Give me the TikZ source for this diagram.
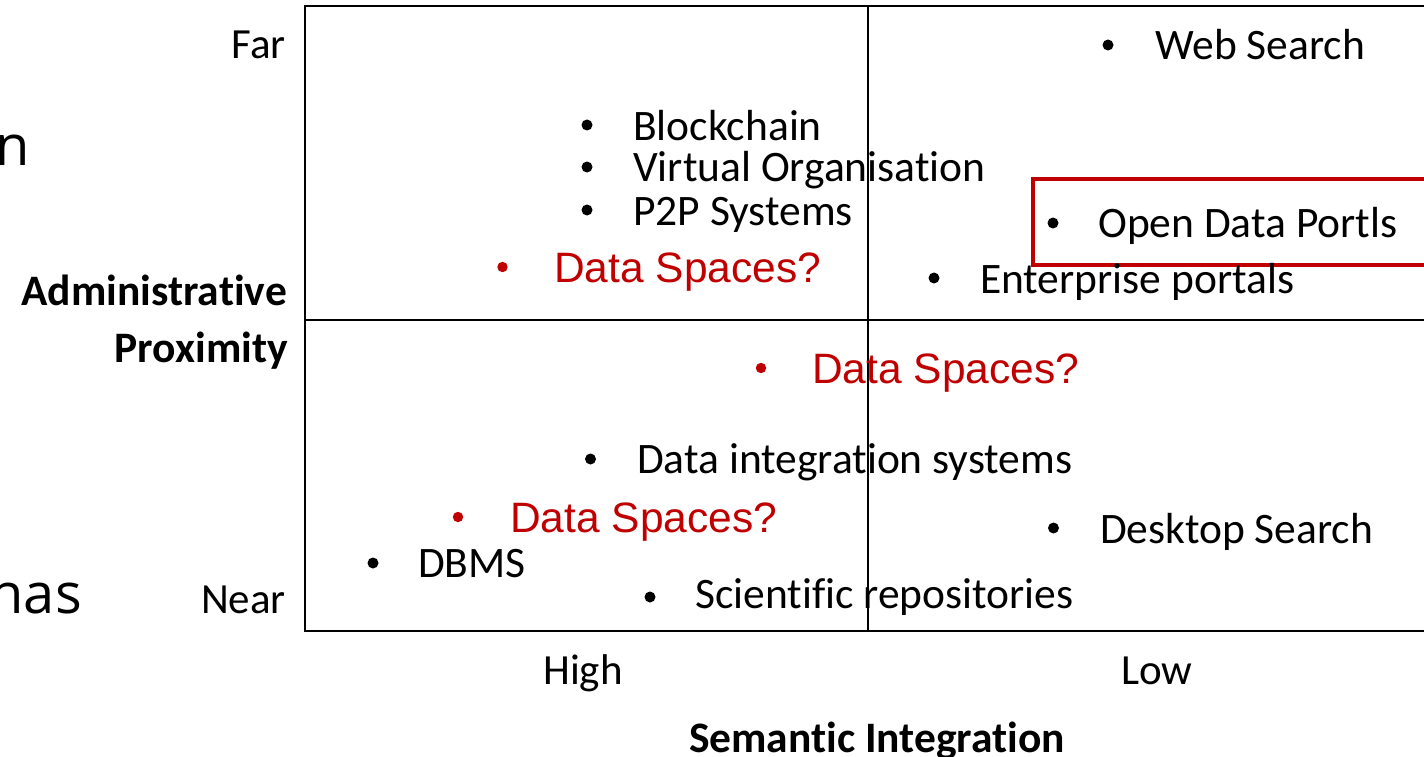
\documentclass[tikz,border=0pt]{standalone}
\usepackage{fontspec}
\setmainfont{Carlito}
\newfontfamily\arialf{Liberation Sans}
\newfontfamily\opensf{Open Sans}
\newcommand{\nlg}{\kern0pt }
\definecolor{dred}{HTML}{C00000}
\begin{document}
\begin{tikzpicture}[x=1pt,y=-1pt,
  item/.style={anchor=base west, inner sep=0pt, font=\fontsize{43.5}{50}\selectfont},
  ritem/.style={anchor=base west, inner sep=0pt, text=dred, font=\arialf\fontsize{42.5}{50}\selectfont},
  axlab/.style={inner sep=0pt, font=\fontsize{43}{50}\selectfont},
  axbold/.style={inner sep=0pt, font=\bfseries\fontsize{43.5}{50}\selectfont},
  bigtxt/.style={inner sep=0pt, anchor=base, font=\opensf\fontsize{56}{60}\selectfont},
  bul/.style={fill=black},
  rbul/.style={fill=dred},
  frame/.style={draw=black, line width=2.8pt},
  hilite/.style={draw=dred, line width=4.5pt}]
\useasboundingbox (0,0) rectangle (1424,757);
\clip (0,0) rectangle (1424,757);
\fill[white] (0,0) rectangle (1424,757);

% quadrant frame
\draw[frame] (305,6) rectangle (1440,631);
\draw[frame] (868,6) -- (868,631);
\draw[frame] (305,320) -- (1440,320);

% highlight box
\draw[hilite] (1033,179) rectangle (1440,265);

% partial texts at left
\node[bigtxt, anchor=base west] (lt1) at (-5,165) {n};
\node[bigtxt, anchor=base east] (lt2) at (82,613) {has};

% axis labels
\node[axlab, anchor=base east] (far) at (286,59) {Far};
\node[axlab, anchor=base east] (near) at (286,613) {Near};
\node[axbold, anchor=base east] (adm1) at (287,305) {Administrat\nlg ive};
\node[axbold, anchor=base east] (adm2) at (288,362) {Proximity};
\node[axlab, anchor=base] (high) at (583,684) {High};
\node[axlab, anchor=base] (low) at (1157,684) {Low};
\node[axbold, anchor=base] (sem) at (877,752) {Semant\nlg ic Integrat\nlg ion};

% items
\fill[bul] (1108,45) circle (5.5);
\node[item] (web) at (1155,60) {Web Search};
\fill[bul] (587,125) circle (5.5);
\node[item] (blk) at (633,141) {Blockchain};
\fill[bul] (587,167) circle (5.5);
\node[item] (vo) at (633,182) {Virtual Organisat\nlg ion};
\fill[bul] (587,210) circle (5.5);
\node[item] (p2p) at (633,225) {P2P Systems};
\fill[rbul] (502.5,267) circle (5.2);
\node[ritem] (ds1) at (554,282) {Data Spaces?};
\fill[bul] (1053,223) circle (5.5);
\node[item] (odp) at (1098,237) {Open Data Portls};
\fill[bul] (934,278) circle (5.5);
\node[item] (ent) at (980,293) {Enterprise portals};
\fill[rbul] (761,368) circle (5.2);
\node[ritem] (ds2) at (812,383) {Data Spaces?};
\fill[bul] (590.5,459) circle (5.5);
\node[item] (dis) at (637,473) {Data integrat\nlg ion systems};
\fill[rbul] (458,517) circle (5.2);
\node[ritem] (ds3) at (510,532) {Data Spaces?};
\fill[bul] (1053.5,528) circle (5.5);
\node[item] (desk) at (1100,543) {Desktop Search};
\fill[bul] (373,563) circle (5.5);
\node[item] (dbms) at (418,577) {DBMS};
\fill[bul] (650,597) circle (5.5);
\node[item] (sci) at (695,608) {Scient\nlg if\nlg ic repositories};
\end{tikzpicture}
\end{document}
